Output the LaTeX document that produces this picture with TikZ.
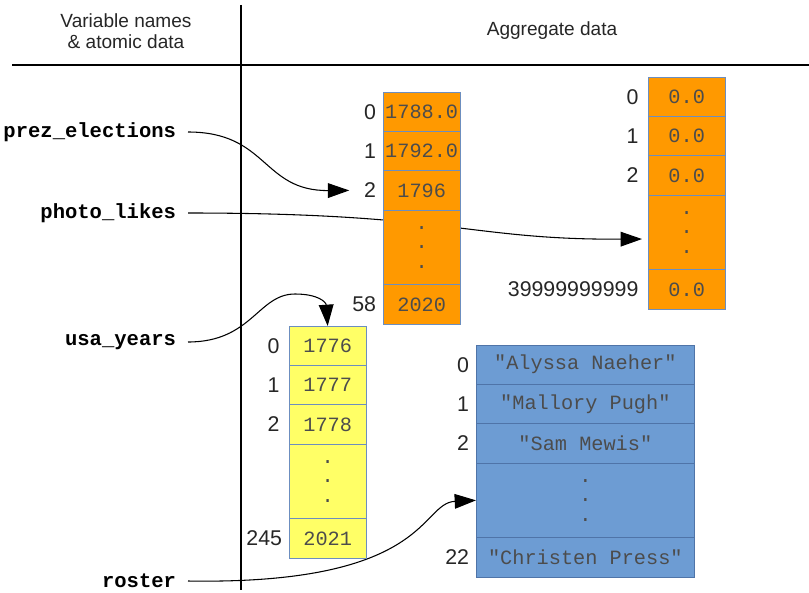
\documentclass[tikz,border=0pt]{standalone}
\usepackage{fontspec}
\setmainfont{Liberation Sans}
\setmonofont{Liberation Mono}
\usetikzlibrary{positioning,arrows.meta}

\definecolor{celledge}{HTML}{6C8EBF}
\definecolor{orangecell}{HTML}{FF9900}
\definecolor{yellowcell}{HTML}{FFFF66}
\definecolor{bluecell}{HTML}{6D9CD3}
\definecolor{blueedge}{HTML}{4F74A8}

\pgfdeclarelayer{behind}
\pgfsetlayers{behind,main}

\tikzset{
    cell/.style={draw=celledge, line width=0.75pt, minimum width=58pt, minimum height=29.5pt,
        inner sep=0pt, outer sep=0pt, text=black!70,
        font=\ttfamily\fontsize{15.2}{14.5}\selectfont},
    dotcell/.style={cell, minimum height=56pt, align=center},
    orange/.style={fill=orangecell},
    yellow/.style={fill=yellowcell},
    blue/.style={fill=bluecell, draw=blueedge, minimum width=164pt},
    idx/.style={inner sep=1pt, text=black!85, font=\fontsize{16}{18}\selectfont},
    varname/.style={anchor=east, inner sep=0pt, outer xsep=9pt,
        font=\ttfamily\bfseries\fontsize{15.4}{16}\selectfont},
    hdr/.style={align=center, text=black!85, font=\fontsize{14.3}{15.8}\selectfont},
    ptr/.style={line width=0.8pt, -{Triangle[length=16pt,width=11pt]}},
}

\begin{document}
\begin{tikzpicture}[x=0.75pt, y=-0.75pt]
    \useasboundingbox (0,0) rectangle (809,592);

    % table frame
    \draw[line width=1pt] (241,5) -- (241,590);
    \draw[line width=1pt] (12,65) -- (809,65);
    \node[hdr] (hvars) at (126,31) {Variable names\\\& atomic data};
    \node[hdr] (hagg) at (552,31) {Aggregate data};

    % variable names
    \node[varname] (pe) at (188,132) {prez\_elections};
    \node[varname] (pl) at (188,213) {photo\_likes};
    \node[varname] (uy) at (188,342) {usa\_years};
    \node[varname] (ro) at (188,581) {roster};

    % prez_elections array
    \node[cell, orange, anchor=north west] (a0) at (383,92) {1788.0};
    \node[cell, orange, below=0pt of a0] (a1) {1792.0};
    \node[cell, orange, below=0pt of a1] (a2) {1796};
    \node[dotcell, orange, below=0pt of a2] (a3) {.\\.\\.};
    \node[cell, orange, below=0pt of a3] (a4) {2020};
    \node[idx, left=4pt of a0] (ia0) {0};
    \node[idx, left=4pt of a1] (ia1) {1};
    \node[idx, left=4pt of a2] (ia2) {2};
    \node[idx, left=4pt of a4] (ia4) {58};

    % photo_likes array
    \node[cell, orange, anchor=north west] (b0) at (648,77) {0.0};
    \node[cell, orange, below=0pt of b0] (b1) {0.0};
    \node[cell, orange, below=0pt of b1] (b2) {0.0};
    \node[dotcell, orange, below=0pt of b2] (b3) {.\\.\\.};
    \node[cell, orange, below=0pt of b3] (b4) {0.0};
    \node[idx, left=6pt of b0] (ib0) {0};
    \node[idx, left=6pt of b1] (ib1) {1};
    \node[idx, left=6pt of b2] (ib2) {2};
    \node[idx, left=6pt of b4] (ib4) {39999999999};

    % usa_years array
    \node[cell, yellow, anchor=north west] (c0) at (289,326) {1776};
    \node[cell, yellow, below=0pt of c0] (c1) {1777};
    \node[cell, yellow, below=0pt of c1] (c2) {1778};
    \node[dotcell, yellow, below=0pt of c2] (c3) {.\\.\\.};
    \node[cell, yellow, below=0pt of c3] (c4) {2021};
    \node[idx, left=6pt of c0] (ic0) {0};
    \node[idx, left=6pt of c1] (ic1) {1};
    \node[idx, left=6pt of c2] (ic2) {2};
    \node[idx, left=4pt of c4] (ic4) {245};

    % roster array
    \node[cell, blue, anchor=north west] (d0) at (476,345) {"Alyssa Naeher"};
    \node[cell, blue, below=0pt of d0] (d1) {"Mallory Pugh"};
    \node[cell, blue, below=0pt of d1] (d2) {"Sam Mewis"};
    \node[dotcell, blue, below=0pt of d2] (d3) {.\\.\\.};
    \node[cell, blue, below=0pt of d3] (d4) {"Christen Press"};
    \node[idx, left=4pt of d0] (id0) {0};
    \node[idx, left=4pt of d1] (id1) {1};
    \node[idx, left=4pt of d2] (id2) {2};
    \node[idx, left=4pt of d4] (id4) {22};

    % pointers (under the arrays)
    \begin{pgfonlayer}{behind}
        \draw[ptr, shorten >=10pt] (pe.east) .. controls (268,132) and (262,191) .. (ia2.west);
        \draw[ptr, shorten >=4.5pt] (pl.east) .. controls (450,213) and (470,240) .. ([yshift=-5pt]b3.west);
        \draw[ptr] (uy.east) .. controls (252,342) and (258,294) .. (295,294)
            .. controls (318,294) and (326,302) .. (c0.north);
        \draw[ptr] (ro.east) .. controls (430,585) and (420,503) .. (d3.west);
    \end{pgfonlayer}
\end{tikzpicture}
\end{document}
